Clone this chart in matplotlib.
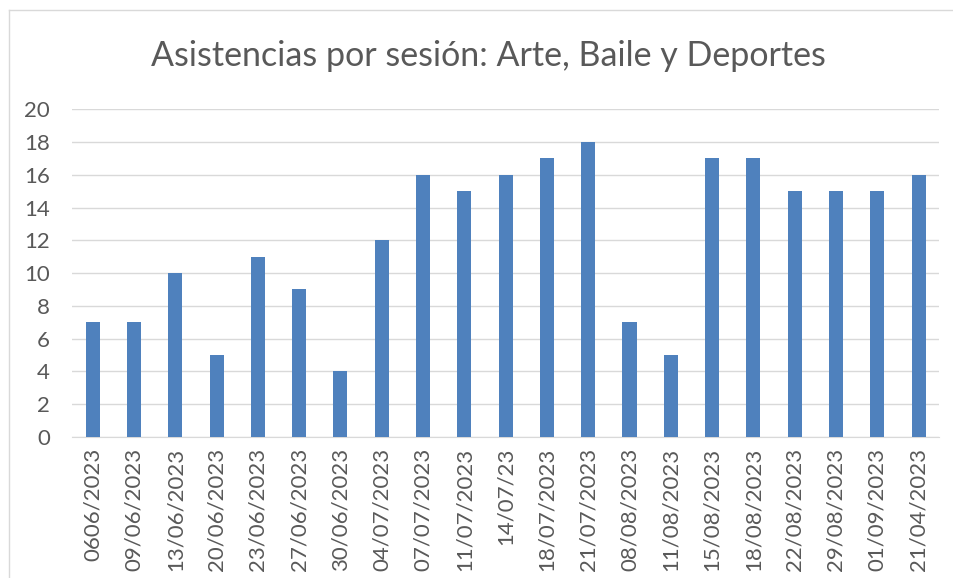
import matplotlib.pyplot as plt
from matplotlib.lines import Line2D

# Data
fechas = ["0606/2023", "09/06/2023", "13/06/2023", "20/06/2023", "23/06/2023",
          "27/06/2023", "30/06/2023", "04/07/2023", "07/07/2023", "11/07/2023",
          "14/07/23", "18/07/2023", "21/07/2023", "08/08/2023", "11/08/2023",
          "15/08/2023", "18/08/2023", "22/08/2023", "29/08/2023", "01/09/2023",
          "21/04/2023"]
asistencias = [7, 7, 10, 5, 11, 9, 4, 12, 16, 15, 16, 17, 18, 7, 5, 17, 17, 15, 15, 15, 16]
y_ticks = list(range(0, 21, 2))

plt.rcParams['font.family'] = ['Lato', 'DejaVu Sans']
text_color = "#595959"

fig = plt.figure(figsize=(9.54, 5.78), dpi=100)
ax = fig.add_axes([0.0755, 0.244, 0.909, 0.567])

x = range(len(fechas))
ax.bar(x, asistencias, width=0.34, color="#4F81BD", zorder=3)

ax.set_xlim(-0.5, len(fechas) - 0.5)
ax.set_ylim(0, 20)
ax.set_yticks(y_ticks)
ax.set_yticklabels([str(v) for v in y_ticks], fontsize=16, color=text_color)
ax.set_xticks(list(x))
ax.set_xticklabels(fechas, rotation=90, fontsize=16, color=text_color)
ax.tick_params(axis='both', length=0)
ax.tick_params(axis='y', pad=16)
ax.tick_params(axis='x', pad=8)

ax.grid(axis='y', color="#D9D9D9", linewidth=1, zorder=0)
for s in ["top", "right", "left"]:
    ax.spines[s].set_visible(False)
ax.spines["bottom"].set_color("#D9D9D9")

fig.suptitle("Asistencias por sesión: Arte, Baile y Deportes", fontsize=24.5,
             color=text_color, x=0.512, y=0.93)

# chart border
fig.add_artist(Line2D([0.0095, 0.0095], [0, 0.983], color="#D9D9D9", linewidth=1))
fig.add_artist(Line2D([0.0095, 1], [0.983, 0.983], color="#D9D9D9", linewidth=1))

plt.savefig("out.png", dpi=100)
